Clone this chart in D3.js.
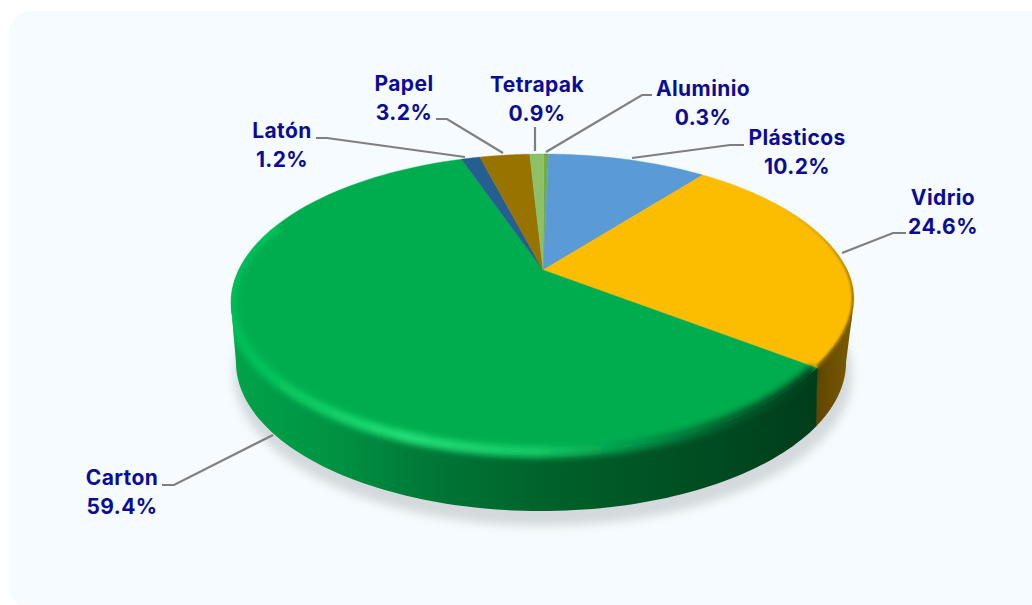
<!DOCTYPE html>
<html>
<head>
<meta charset="utf-8">
<script src="https://cdnjs.cloudflare.com/ajax/libs/d3/7.8.5/d3.min.js"></script>
<style>
html,body{margin:0;padding:0;background:#fff;overflow:hidden}
text{font-family:Inter,Roboto,sans-serif;font-weight:700;font-size:21px;letter-spacing:0.4px;fill:#0b0b96}
</style>
</head>
<body>
<svg id="chart" width="1032" height="605"></svg>
<script>
// datos
const materials = ['Aluminio','Plásticos','Vidrio','Carton','Latón','Papel','Tetrapak']
const shares = [0.3,10.2,24.6,59.4,1.2,3.2,0.9]
const topColors = ['#70ad47','#5b9bd5','#fcbc00','#00ad4e','#255e91','#997300','#8cc168']
const sideColors = [
  ['#4a7a2c','#4a7a2c'],['#3c6a95','#3c6a95'],['#7d5d00','#5e4600'],
  ['#00a34a','#003d1b'],['#1b4468','#1b4468'],['#6b5000','#6b5000'],['#5f8a45','#5f8a45']
]

// posicion de las etiquetas y codos de las lineas guia (layout, no datos)
const labelPos = {
  'Aluminio':[703,96],'Plásticos':[797,145],'Vidrio':[943,205],
  'Carton':[122,485],'Latón':[282,138],'Papel':[404,91],'Tetrapak':[537,92]
}
const leaders = {
  'Aluminio':[[546,152],[642,95],[652,95]],
  'Plásticos':[[632,158],[730,145],[744,145]],
  'Vidrio':[[842,253],[893,233],[906,233]],
  'Carton':[[273,435],[174,485],[162,485]],
  'Latón':[[465,157],[327,138],[316,138]],
  'Papel':[[503,153],[447,119],[436,119]],
  'Tetrapak':[[535,151],[535,127]]
}

const svg = d3.select('#chart')
const defs = svg.append('defs')

const blur = (id,s) => defs.append('filter').attr('id',id)
  .attr('x','-10%').attr('y','-20%').attr('width','120%').attr('height','140%')
  .append('feGaussianBlur').attr('stdDeviation',s)
blur('shadowBlur',5)
blur('rimBlur',3)
blur('edgeBlur',1)

/* fondo */
svg.append('rect').attr('x',9).attr('y',11).attr('width',1040).attr('height',597)
  .attr('rx',22).attr('fill','#f5fbfe')

/* el disco : proyeccion en perspectiva de un circulo */
const cx=543, apexY=270, a=304.3, b=141.7, k=0.2215
const rawPoint = t => {
  const u=Math.sin(t), v=Math.cos(t), w=1+k*v
  return [cx+a*u/w, apexY-b*v/w]
}
const topPoint = t => {
  const p=rawPoint(t), u=Math.sin(t), v=Math.cos(t)
  // le bord avant droit est un peu plus rentre sur l'original
  const pinch = (u>0 && v<0) ? 1-0.09*u*v*v : 1
  return [cx+(p[0]-cx)*pinch, p[1]]
}
const botCx=541, botCy=364, botRx=305, botRy=149
const botPoint = t => {
  // meme parametre que le dessus pour relier les deux bords
  const p=rawPoint(t)
  return [botCx+(p[0]-cx)/312*botRx, botCy+(p[1]-305)/149*botRy]
}
const rad = d => d*Math.PI/180
const arcPts = (fn,t0,t1) => d3.range(0,101).map(i=>fn(t0+(t1-t0)*i/100))
const line = d3.line()

const pie = d3.pie().sort(null).startAngle(rad(0.2)).endAngle(rad(360.2))
const slices = pie(shares).map((s,i)=>({...s,name:materials[i],i}))

/* ombre */
svg.append('ellipse').attr('cx',botCx+2).attr('cy',botCy+11).attr('rx',botRx+4).attr('ry',botRy+2)
  .attr('fill','#c6cbce').attr('opacity',0.7).attr('filter','url(#shadowBlur)')

/* paroi */
const frontStart=rad(102.8), frontEnd=rad(257.2)
const xShade = d3.scaleLinear()
// Vidrio d'abord, Carton par dessus avec un peu de recouvrement
slices.filter(s=>s.name==='Vidrio').concat(slices.filter(s=>s.name!=='Vidrio')).forEach(s=>{
  const t0=Math.max(s.startAngle-(s.name==='Carton'?0.004:0),frontStart), t1=Math.min(s.endAngle,frontEnd)
  if(t1<=t0) return
  const id='side'+s.i
  const sc=sideColors[s.i]
  const g=defs.append('linearGradient').attr('id',id).attr('gradientUnits','userSpaceOnUse')
    .attr('x1',s.name==='Vidrio'?855:236).attr('x2',815)
    .attr('y1',0).attr('y2',0)
  if(s.name==='Carton'){
    const stops=[[236,'#00a34a'],[340,'#009142'],[440,'#007535'],[560,'#006029'],[700,'#004d22'],[815,'#003d1b']]
    xShade.domain([236,815]).range([0,1])
    stops.forEach(d=>g.append('stop').attr('offset',xShade(d[0])).attr('stop-color',d[1]))
  }else{
    g.append('stop').attr('offset',0).attr('stop-color',sc[0])
    g.append('stop').attr('offset',1).attr('stop-color',sc[1])
  }
  const pts=arcPts(topPoint,t0,t1).concat(arcPts(botPoint,t0,t1).reverse())
  svg.append('path').attr('d',line(pts)+'Z').attr('fill','url(#'+id+')')
})

/* dessus */
const apex=[cx,apexY]
slices.forEach(s=>{
  const pts=[apex].concat(arcPts(topPoint,s.startAngle,s.endAngle))
  svg.append('path').attr('d',line(pts)+'Z').attr('fill',topColors[s.i])
    .attr('stroke',topColors[s.i]).attr('stroke-width',0.4)
})

/* silhouette pour couper le flou du biseau */
const clip=defs.append('clipPath').attr('id','diskClip')
clip.append('path').attr('d',line(arcPts(topPoint,0,2*Math.PI))+'Z')
clip.append('path').attr('d',line(arcPts(topPoint,frontStart,frontEnd).concat(arcPts(botPoint,frontStart,frontEnd).reverse()))+'Z')
const rimLayer=svg.append('g').attr('clip-path','url(#diskClip)')

/* biseau du bord */
const carton=slices.find(s=>s.name==='Carton'), vidrio=slices.find(s=>s.name==='Vidrio')
const rimGrad=defs.append('linearGradient').attr('id','rimGreen').attr('gradientUnits','userSpaceOnUse')
  .attr('x1',232).attr('x2',820).attr('y1',0).attr('y2',0)
const rimStops=[[0,'#00bd56'],[0.1,'#08c860'],[0.3,'#22e078'],[0.52,'#14cc66'],[0.68,'#00964a'],[0.85,'#00602c'],[1,'#003d1b']]
rimStops.forEach(d=>rimGrad.append('stop').attr('offset',d[0]).attr('stop-color',d[1]))
rimLayer.append('path').attr('d',line(arcPts(topPoint,carton.startAngle+0.012,rad(290))))
  .attr('fill','none').attr('stroke','url(#rimGreen)').attr('stroke-width',11)
  .attr('filter','url(#rimBlur)')
const edgeGrad=defs.append('linearGradient').attr('id','rimOrange').attr('gradientUnits','userSpaceOnUse')
  .attr('x1',0).attr('x2',0).attr('y1',205).attr('y2',320)
edgeGrad.append('stop').attr('offset',0).attr('stop-color','#7a5a00').attr('stop-opacity',0)
edgeGrad.append('stop').attr('offset',1).attr('stop-color','#7a5a00').attr('stop-opacity',1)
rimLayer.append('path').attr('d',line(arcPts(topPoint,rad(55),vidrio.endAngle-0.006)))
  .attr('fill','none').attr('stroke','url(#rimOrange)').attr('stroke-width',4)
  .attr('filter','url(#edgeBlur)')

/* lineas guia */
slices.forEach(s=>{
  svg.append('path').attr('d',line(leaders[s.name]))
    .attr('fill','none').attr('stroke','#7f7f7f').attr('stroke-width',2.2)
})

/* etiquetas */
slices.forEach(s=>{
  const p=labelPos[s.name]
  const t=svg.append('text').attr('x',p[0]).attr('y',p[1]).attr('text-anchor','middle')
  t.append('tspan').attr('x',p[0]).attr('dy',0).text(s.name)
  t.append('tspan').attr('x',p[0]).attr('dy',28.8).text(s.data.toFixed(1)+'%')
})
</script>
</body>
</html>
